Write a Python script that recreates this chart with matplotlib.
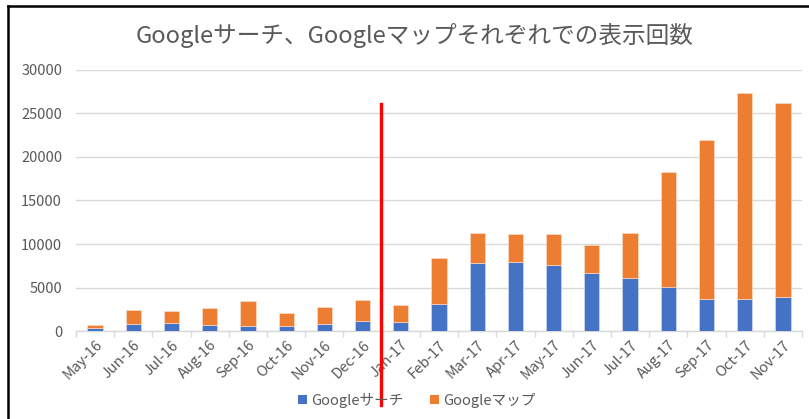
import numpy as np
import matplotlib
matplotlib.use("Agg")
import matplotlib.pyplot as plt
from matplotlib.lines import Line2D
from matplotlib.patches import Patch

plt.rcParams['font.family'] = ['Noto Sans CJK JP', 'DejaVu Sans']

# Months on the category axis
months = ['May-16', 'Jun-16', 'Jul-16', 'Aug-16', 'Sep-16', 'Oct-16', 'Nov-16',
          'Dec-16', 'Jan-17', 'Feb-17', 'Mar-17', 'Apr-17', 'May-17', 'Jun-17',
          'Jul-17', 'Aug-17', 'Sep-17', 'Oct-17', 'Nov-17']

# Impressions from Google search
search = [300, 840, 920, 690, 610, 540, 770, 1110, 1000, 3140, 7820, 7900,
          7590, 6670, 6130, 5090, 3680, 3640, 3910]

# Impressions from Google Maps (stacked on top)
maps = [400, 1530, 1380, 1950, 2840, 1560, 1950, 2410, 2040, 5290, 3480, 3210,
        3590, 3250, 5140, 13190, 18240, 23720, 22300]

yticks = [0, 5000, 10000, 15000, 20000, 25000, 30000]

# the red marker sits between these two months
divider_between = ('Dec-16', 'Jan-17')

title = 'Googleサーチ、Googleマップそれぞれでの表示回数'
series_names = ['Googleサーチ', 'Googleマップ']

blue = '#4472C4'
orange = '#ED7D31'
grey = '#595959'
grid = '#D9D9D9'

fig = plt.figure(figsize=(8.09, 4.19), dpi=100)
ax = fig.add_axes([76 / 809, 88 / 419, 726 / 809, 261 / 419])

x = np.arange(len(months))
ax.bar(x, search, width=0.4, color=blue, edgecolor='#DAE3F3', linewidth=0.4, zorder=3)
ax.bar(x, maps, width=0.4, bottom=search, color=orange, edgecolor='#FBE5D6',
       linewidth=0.4, zorder=3)

ax.set_xlim(-0.5, len(months) - 0.5)
ax.set_ylim(0, 30000)
ax.set_yticks(yticks)
ax.set_yticklabels([str(v) for v in yticks], fontsize=10.5, color=grey)
ax.tick_params(axis='y', length=0, pad=10)
ax.yaxis.grid(True, color=grid, linewidth=1.0, zorder=0)

ax.set_xticks(x)
ax.set_xticklabels(months, rotation=45, ha='right', rotation_mode='anchor',
                   fontsize=10.5, color=grey)
ax.set_xticks(np.arange(len(months) + 1) - 0.5, minor=True)
ax.tick_params(axis='x', which='major', length=0, pad=5)
ax.tick_params(axis='x', which='minor', length=4, color=grid, width=1.0)

for side in ['left', 'right', 'top']:
    ax.spines[side].set_visible(False)
ax.spines['bottom'].set_color(grid)
ax.spines['bottom'].set_linewidth(1.0)

# red vertical divider
xd = (months.index(divider_between[0]) + months.index(divider_between[1])) / 2
ax.plot([xd - 0.02, xd - 0.02], [0.87, -0.283], color='red', linewidth=2.4,
        transform=ax.get_xaxis_transform(), clip_on=False, zorder=5)

fig.text(0.513, 1 - 35 / 419, title, ha='center', va='center', fontsize=17,
         color=grey)

handles = [Patch(facecolor=blue), Patch(facecolor=orange)]
fig.legend(handles, series_names, loc='center', bbox_to_anchor=(0.515, 1 - 400 / 419),
           ncol=2, frameon=False, fontsize=10.5, labelcolor=grey, handlelength=0.6,
           handleheight=0.6, handletextpad=0.3, columnspacing=1.8)

# black frame lines along the left and top edges
fig.add_artist(Line2D([8 / 809, 8 / 809], [0, 1 - 6 / 419], color='black',
                      linewidth=1.8, transform=fig.transFigure))
fig.add_artist(Line2D([8 / 809, 1], [1 - 6 / 419, 1 - 6 / 419], color='black',
                      linewidth=1.8, transform=fig.transFigure))

fig.savefig('out.png', dpi=100)
